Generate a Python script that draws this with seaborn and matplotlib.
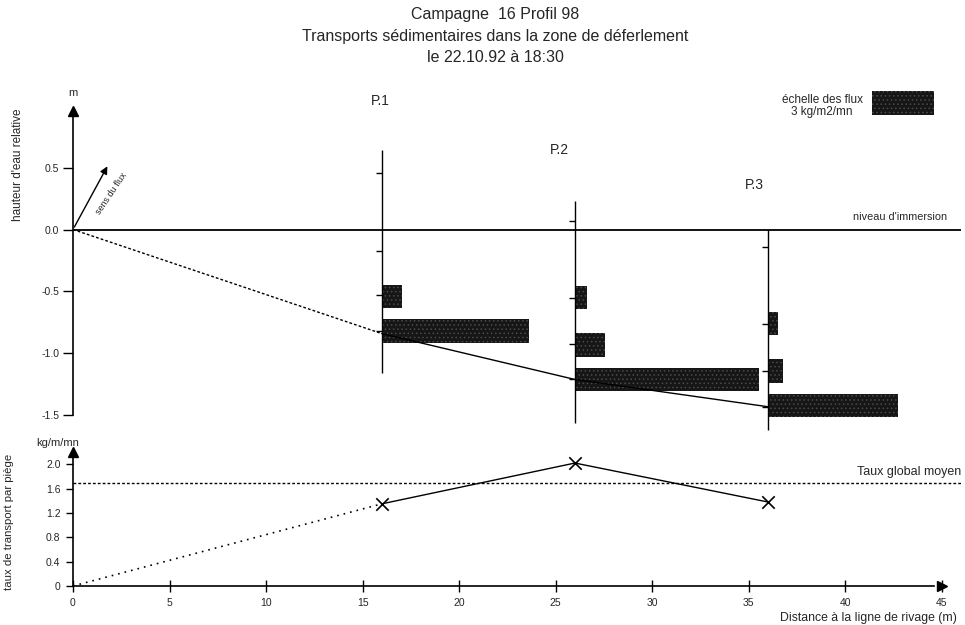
import matplotlib
matplotlib.use("Agg")
import matplotlib.pyplot as plt
import seaborn as sns
import numpy as np

sns.set_theme(style="white")
plt.rcParams["font.family"] = ["Liberation Sans", "DejaVu Sans"]
plt.rcParams["hatch.color"] = "#5a5a5a"
plt.rcParams["hatch.linewidth"] = 0.6

# stations (distance to shoreline, m)
stations = [16, 26, 36]
station_names = ["P.1", "P.2", "P.3"]
seabed = [-0.84, -1.21, -1.43]

# vertical extent of each trap mast and its tick levels
mast_top = [0.64, 0.23, 0.0]
mast_bottom = [-1.16, -1.56, -1.62]
mast_ticks = [[0.46, -0.17, -0.53, -0.82],
              [0.07, -0.55, -0.92, -1.21],
              [-0.14, -0.76, -1.14, -1.43]]

# flux per trap (kg/m2/mn) and trap heights (m)
trap_levels = [[-0.54, -0.82],
               [-0.55, -0.93, -1.21],
               [-0.76, -1.14, -1.42]]
trap_flux = [[0.97, 7.1],
             [0.58, 1.45, 8.9],
             [0.48, 0.72, 6.3]]

# transport rate per trap (kg/m/mn)
rate = [1.35, 2.02, 1.38]
mean_rate = 1.69

flux_to_m = 1.07   # horizontal length (m) of 1 kg/m2/mn
bar_h = 0.19

fig = plt.figure(figsize=(9.65, 6.25), dpi=100)
ax1 = fig.add_axes([73 / 965, 0.3056, 888 / 965, 0.5552])
ax2 = fig.add_axes([73 / 965, 39 / 625, 888 / 965, 140 / 625])

fig.text(0.513, 1 - 14 / 625, "Campagne  16 Profil 98", ha="center", va="center", fontsize=11.5)
fig.text(0.513, 1 - 36 / 625, "Transports sédimentaires dans la zone de déferlement",
         ha="center", va="center", fontsize=11.5)
fig.text(0.513, 1 - 58 / 625, "le 22.10.92 à 18:30", ha="center", va="center", fontsize=11.5)

# ---- top panel
ax1.set_xlim(0, 46)
ax1.set_ylim(-1.65, 1.15)
for s in ["top", "right", "bottom"]:
    ax1.spines[s].set_visible(False)
ax1.spines["left"].set_bounds(-1.5, 0.93)
ax1.spines["left"].set_color("black")
ax1.spines["left"].set_linewidth(1.2)
ax1.plot([0], [0.96], marker="^", color="black", markersize=7, clip_on=False)
ax1.set_xticks([])
ax1.set_yticks([-1.5, -1.0, -0.5, 0.0, 0.5])
ax1.set_yticklabels(["-1.5", "-1.0", "-0.5", "0.0", "0.5"], fontsize=7.5)
ax1.tick_params(axis="y", direction="out", length=7, width=1, color="black", pad=3, left=True)
ax1.text(0, 1.1, "m", ha="center", va="center", fontsize=8)
ax1.text(-2.85, 0.52, "hauteur d'eau relative", rotation=90, ha="center", va="center", fontsize=8.5)

# water level
ax1.axhline(0, color="black", lw=1.3)
ax1.text(45.3, 0.1, "niveau d'immersion", ha="right", va="center", fontsize=7.8)

# seabed profile
sns.lineplot(x=[0, stations[0]], y=[0, seabed[0]], ax=ax1, color="black", lw=1, linestyle=(0, (2, 1.5)))
sns.lineplot(x=stations, y=seabed, ax=ax1, color="black", lw=1)

# flux direction arrow
ax1.annotate("", xy=(1.85, 0.53), xytext=(0, 0),
             arrowprops=dict(arrowstyle="-|>", color="black", lw=1, mutation_scale=11))
ax1.text(2.0, 0.29, "sens du flux", rotation=56, ha="center", va="center", fontsize=6.5)

for i, x0 in enumerate(stations):
    ax1.vlines(x0, mast_bottom[i], mast_top[i], color="black", lw=1, clip_on=False)
    ax1.hlines(mast_ticks[i], x0 - 0.3, x0, color="black", lw=1)
    ax1.barh(trap_levels[i], np.array(trap_flux[i]) * flux_to_m, height=bar_h, left=x0,
             color="#161616", edgecolor="#4a4a4a", hatch="....", lw=0)

ax1.text(15.9, 1.04, "P.1", ha="center", va="center", fontsize=10)
ax1.text(25.2, 0.64, "P.2", ha="center", va="center", fontsize=10)
ax1.text(35.3, 0.36, "P.3", ha="center", va="center", fontsize=10)

# flux scale
ax1.barh([1.02], [3 * flux_to_m], height=bar_h, left=41.4, color="#161616",
         edgecolor="#4a4a4a", hatch="....", lw=0)
ax1.text(38.8, 1.0, "échelle des flux\n3 kg/m2/mn", ha="center", va="center",
         fontsize=8.5, linespacing=1.0)

# ---- bottom panel
ax2.set_xlim(0, 46)
ax2.set_ylim(0, 2.3)
for s in ["top", "right"]:
    ax2.spines[s].set_visible(False)
for s in ["left", "bottom"]:
    ax2.spines[s].set_color("black")
    ax2.spines[s].set_linewidth(1.2)
ax2.spines["left"].set_bounds(0, 2.15)
ax2.spines["bottom"].set_bounds(0, 44.6)
ax2.plot([0], [2.2], marker="^", color="black", markersize=7, clip_on=False)
ax2.plot([45], [0], marker=">", color="black", markersize=7, clip_on=False)
ax2.set_xticks(np.arange(0, 46, 5))
ax2.set_xticklabels([str(v) for v in range(0, 46, 5)], fontsize=7.5)
ax2.set_yticks([0, 0.4, 0.8, 1.2, 1.6, 2.0])
ax2.set_yticklabels(["0", "0.4", "0.8", "1.2", "1.6", "2.0"], fontsize=7.5)
ax2.tick_params(axis="x", direction="inout", length=9, width=1, color="black", pad=4, bottom=True)
ax2.tick_params(axis="y", direction="out", length=5, width=1, color="black", pad=4, left=True)

ax2.axhline(mean_rate, color="black", lw=1, linestyle=(0, (2, 1.5)))
ax2.text(46.0, 1.78, "Taux global moyen", ha="right", va="bottom", fontsize=9)

sns.lineplot(x=[0, stations[0]], y=[0, rate[0]], ax=ax2, color="black", lw=1.2, linestyle=(0, (1, 3)))
sns.lineplot(x=stations, y=rate, ax=ax2, color="black", lw=1)
sns.scatterplot(x=stations, y=rate, ax=ax2, marker="x", s=80, color="black", linewidth=1.2)

ax2.text(-0.8, 2.35, "kg/m/mn", ha="center", va="center", fontsize=8)
ax2.text(-3.3, 1.05, "taux de transport par piège", rotation=90, ha="center", va="center", fontsize=8.2)
ax2.text(45.8, -0.52, "Distance à la ligne de rivage (m)", ha="right", va="center", fontsize=8.8)

fig.savefig("out.png", dpi=100)
